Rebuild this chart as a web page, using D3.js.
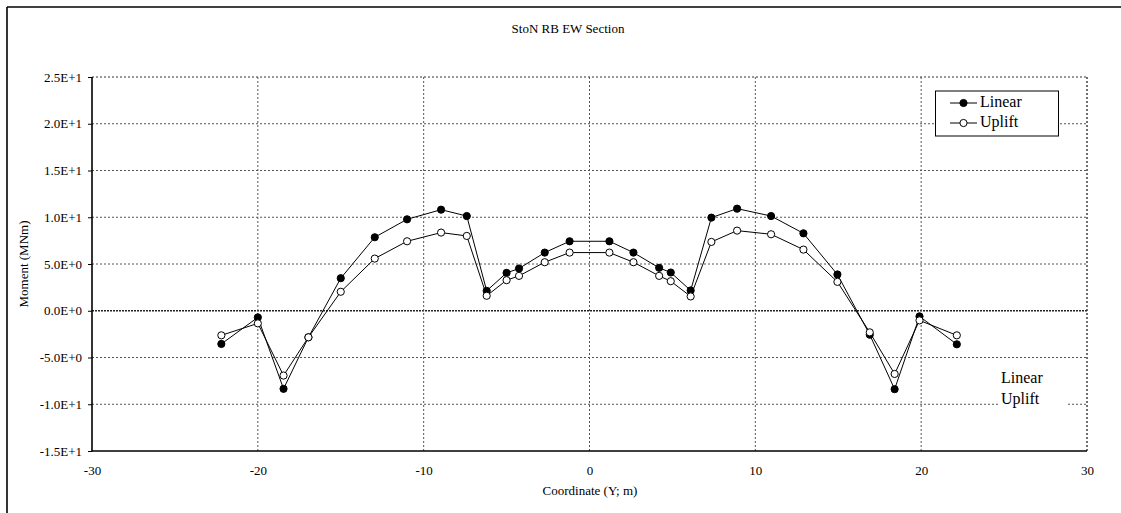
<!DOCTYPE html>
<html>
<head>
<meta charset="utf-8">
<script src="https://cdn.jsdelivr.net/npm/d3@7"></script>
<style>
  html, body { margin: 0; padding: 0; background: #fff; }
  svg { display: block; }
  text { font-family: "Liberation Serif", "DejaVu Serif", serif; fill: #000; }
</style>
</head>
<body>
<svg id="chart" width="1121" height="513"></svg>
<script>
const title = "StoN RB EW Section";
const xLabel = "Coordinate (Y; m)";
const yLabel = "Moment (MNm)";
const seriesNames = ["Linear", "Uplift"];

const coords = [-22.2, -20.0, -18.45, -16.95, -15.0, -12.95, -11.0, -8.95, -7.4, -6.2, -5.0, -4.25, -2.7, -1.2,
                1.2, 2.65, 4.2, 4.9, 6.1, 7.35, 8.9, 10.95, 12.9, 14.95, 16.9, 18.4, 19.9, 22.15];
const linear = [-3.55, -0.71, -8.35, -2.84, 3.48, 7.86, 9.78, 10.81, 10.13, 2.13, 4.05, 4.52, 6.22, 7.43,
                7.43, 6.22, 4.59, 4.09, 2.17, 9.96, 10.92, 10.13, 8.28, 3.88, -2.56, -8.39, -0.6, -3.59];
const uplift = [-2.63, -1.35, -6.93, -2.84, 2.03, 5.58, 7.43, 8.36, 8.0, 1.6, 3.27, 3.73, 5.19, 6.22,
                6.22, 5.19, 3.73, 3.16, 1.53, 7.36, 8.57, 8.18, 6.54, 3.09, -2.31, -6.76, -1.03, -2.63];

const xTicks = [-30, -20, -10, 0, 10, 20, 30];
const xTickLabels = ["-30", "-20", "-10", "0", "10", "20", "30"];
const yTicks = [-15, -10, -5, 0, 5, 10, 15, 20, 25];
const yTickLabels = ["-1.5E+1", "-1.0E+1", "-5.0E+0", "0.0E+0", "5.0E+0", "1.0E+1", "1.5E+1", "2.0E+1", "2.5E+1"];

const svg = d3.select("#chart");
const L = 92, R = 1087, T = 77, B = 451;
const x = d3.scaleLinear().domain([-30, 30]).range([L, R]);
const y = d3.scaleLinear().domain([-15, 25]).range([B, T]);

// outer frame (left and top visible)
svg.append("line").attr("x1", 7).attr("x2", 1121).attr("y1", 7).attr("y2", 7)
  .attr("stroke", "#000").attr("stroke-width", 1.6);
svg.append("line").attr("x1", 7).attr("x2", 7).attr("y1", 7).attr("y2", 513)
  .attr("stroke", "#000").attr("stroke-width", 1.6);

// title
svg.append("text").attr("x", 568).attr("y", 30).attr("text-anchor", "middle")
  .attr("dominant-baseline", "middle").style("font-size", "13px").text(title);

// grid
const grid = svg.append("g");
yTicks.filter(v => v !== -15).forEach(v => {
  grid.append("line").attr("x1", L).attr("x2", R).attr("y1", y(v)).attr("y2", y(v))
    .attr("stroke", v === 0 ? "#222" : (v === 25 ? "#333" : "#555"))
    .attr("stroke-width", v === 0 ? 1.6 : 1)
    .attr("stroke-dasharray", v === 0 ? "2,1" : "2,2");
});
xTicks.filter(v => v !== -30).forEach(v => {
  grid.append("line").attr("x1", x(v)).attr("x2", x(v)).attr("y1", T).attr("y2", B)
    .attr("stroke", v === 30 ? "#333" : "#555").attr("stroke-width", v === 30 ? 1.4 : 1)
    .attr("stroke-dasharray", "2,2");
});

// axes
const yAxis = d3.axisLeft(y).tickValues(yTicks).tickSize(4).tickPadding(6)
  .tickFormat((d, i) => yTickLabels[i]);
const gy = svg.append("g").attr("transform", `translate(${L},0)`).call(yAxis);
gy.select(".domain").remove();
gy.selectAll("text").style("font-size", "13px").style("font-family", '"Liberation Serif", serif');
svg.append("line").attr("x1", L).attr("x2", L).attr("y1", T).attr("y2", B + 0.5)
  .attr("stroke", "#000").attr("stroke-width", 1.6);

const xAxis = d3.axisBottom(x).tickValues(xTicks).tickSize(0).tickPadding(15)
  .tickFormat((d, i) => xTickLabels[i]);
const gx = svg.append("g").attr("transform", `translate(0,${B})`).call(xAxis);
gx.select(".domain").remove();
gx.selectAll("text").style("font-size", "13px").style("font-family", '"Liberation Serif", serif');
svg.append("line").attr("x1", L - 0.5).attr("x2", R).attr("y1", B).attr("y2", B)
  .attr("stroke", "#000").attr("stroke-width", 1.6);

// axis labels
svg.append("text").attr("x", 590).attr("y", 492).attr("text-anchor", "middle")
  .attr("dominant-baseline", "middle").style("font-size", "13px").text(xLabel);
svg.append("text").attr("transform", `translate(25,${(T + B) / 2}) rotate(-90)`)
  .attr("text-anchor", "middle").attr("dominant-baseline", "middle")
  .style("font-size", "13px").text(yLabel);

// annotation text box in lower right
svg.append("rect").attr("x", 1000).attr("y", 368).attr("width", 68).attr("height", 44).attr("fill", "#fff");
svg.append("text").attr("x", 1001).attr("y", 379).attr("dominant-baseline", "middle")
  .style("font-size", "16px").text(seriesNames[0]);
svg.append("text").attr("x", 1001).attr("y", 400).attr("dominant-baseline", "middle")
  .style("font-size", "16px").text(seriesNames[1]);

// series
const series = [
  { name: seriesNames[0], values: linear, fill: "#000" },
  { name: seriesNames[1], values: uplift, fill: "#fff" }
];
const line = d3.line().x(d => x(d[0])).y(d => y(d[1]));
series.forEach(s => {
  const pts = coords.map((c, i) => [c, s.values[i]]);
  svg.append("path").datum(pts).attr("d", line).attr("fill", "none")
    .attr("stroke", "#000").attr("stroke-width", 1);
});
series.forEach(s => {
  const pts = coords.map((c, i) => [c, s.values[i]]);
  svg.append("g").selectAll("circle").data(pts).join("circle")
    .attr("cx", d => x(d[0])).attr("cy", d => y(d[1])).attr("r", 3.6)
    .attr("fill", s.fill).attr("stroke", "#000").attr("stroke-width", 1);
});

// legend
const lg = svg.append("g");
lg.append("rect").attr("x", 935.5).attr("y", 91).attr("width", 123).attr("height", 45)
  .attr("fill", "#fff").attr("stroke", "#000").attr("stroke-width", 1);
series.forEach((s, i) => {
  const yy = 103 + i * 20;
  lg.append("line").attr("x1", 950).attr("x2", 977).attr("y1", yy).attr("y2", yy)
    .attr("stroke", "#000").attr("stroke-width", 1);
  lg.append("circle").attr("cx", 963.5).attr("cy", yy).attr("r", 3.6)
    .attr("fill", s.fill).attr("stroke", "#000").attr("stroke-width", 1);
  lg.append("text").attr("x", 980).attr("y", yy).attr("dominant-baseline", "middle")
    .style("font-size", "16px").text(s.name);
});
</script>
</body>
</html>
